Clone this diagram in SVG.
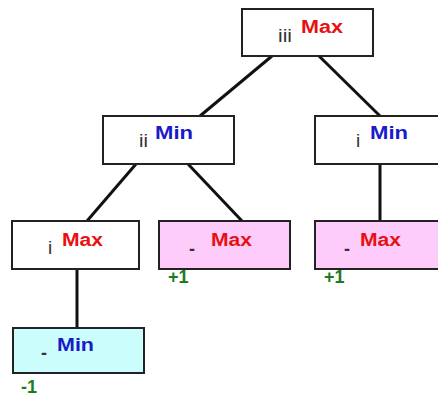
<svg xmlns="http://www.w3.org/2000/svg" width="438" height="398" viewBox="0 0 438 398">
<style>
.box{stroke:#222;stroke-width:2;fill:#fff}
.pink{fill:#fdccfb}
.cyan{fill:#ccfdfd}
.nm{font-family:"Liberation Sans",Arial,sans-serif;font-size:19px;fill:#333}
.dash{font-family:"Liberation Sans",Arial,sans-serif;font-size:18px;font-weight:bold;fill:#333}
.mx{font-family:"Liberation Sans",Arial,sans-serif;font-size:18px;font-weight:bold;fill:#e81010}
.mn{font-family:"Liberation Sans",Arial,sans-serif;font-size:18px;font-weight:bold;fill:#1a1ac8}
.sc{font-family:"Liberation Sans",Arial,sans-serif;font-size:18px;font-weight:bold;fill:#1e7a1e}
.edge{stroke:#111;stroke-width:3;fill:none}
</style>
<rect width="438" height="398" fill="#fff"/>
<g id="connectors">
<line class="edge" x1="272" y1="56" x2="200" y2="116"/>
<line class="edge" x1="319" y1="56" x2="380" y2="116"/>
<line class="edge" x1="136" y1="164" x2="87" y2="221"/>
<line class="edge" x1="188" y1="164" x2="242" y2="221"/>
<line class="edge" x1="380" y1="164" x2="380" y2="221"/>
<line class="edge" x1="77" y1="269" x2="77" y2="328"/>
</g>
<g id="n-iii">
<rect class="box" x="242" y="9" width="131" height="47"/>
<text class="nm" x="278" y="42" textLength="14" lengthAdjust="spacingAndGlyphs">iii</text>
<text class="mx" x="301" y="33" textLength="42" lengthAdjust="spacingAndGlyphs">Max</text>
</g>
<g id="n-ii">
<rect class="box" x="103" y="116" width="131" height="48"/>
<text class="nm" x="139" y="147" textLength="9" lengthAdjust="spacingAndGlyphs">ii</text>
<text class="mn" x="155" y="139" textLength="38" lengthAdjust="spacingAndGlyphs">Min</text>
</g>
<g id="n-i-min">
<rect class="box" x="315" y="116" width="131" height="48"/>
<text class="nm" x="356" y="147">i</text>
<text class="mn" x="370" y="139" textLength="38" lengthAdjust="spacingAndGlyphs">Min</text>
</g>
<g id="n-i-max">
<rect class="box" x="12" y="221" width="127" height="48"/>
<text class="nm" x="48" y="254">i</text>
<text class="mx" x="62" y="246" textLength="41" lengthAdjust="spacingAndGlyphs">Max</text>
</g>
<g id="n-leaf1">
<rect class="box pink" x="159" y="221" width="131" height="48"/>
<text class="dash" x="189" y="255">-</text>
<text class="mx" x="211" y="246" textLength="41" lengthAdjust="spacingAndGlyphs">Max</text>
<text class="sc" x="168" y="283">+1</text>
</g>
<g id="n-leaf2">
<rect class="box pink" x="315" y="221" width="131" height="48"/>
<text class="dash" x="344" y="255">-</text>
<text class="mx" x="360" y="246" textLength="41" lengthAdjust="spacingAndGlyphs">Max</text>
<text class="sc" x="324" y="283">+1</text>
</g>
<g id="n-leaf3">
<rect class="box cyan" x="13" y="328" width="131" height="45"/>
<text class="dash" x="41" y="359">-</text>
<text class="mn" x="57" y="351" textLength="37" lengthAdjust="spacingAndGlyphs">Min</text>
<text class="sc" x="21" y="393">-1</text>
</g>
</svg>
